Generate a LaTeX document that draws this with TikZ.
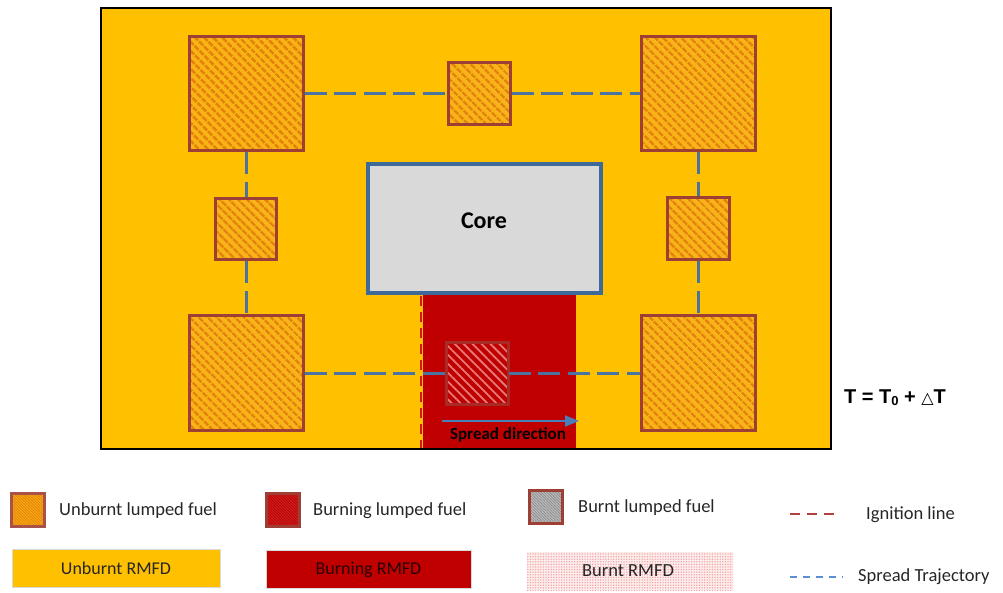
\documentclass[tikz,border=0pt]{standalone}
\usepackage{fontspec}
\setmainfont{Carlito}
\newfontfamily\arialfont{Liberation Sans}
\newfontfamily\symfont{DejaVu Sans}
\usetikzlibrary{patterns.meta,arrows.meta}

\definecolor{rmfd}{HTML}{FFC000}
\definecolor{burnred}{HTML}{C00000}
\definecolor{fuelbase}{HTML}{F8B414}
\definecolor{fuelline}{HTML}{E5820C}
\definecolor{fuelborder}{HTML}{9E3F35}
\definecolor{coreblue}{HTML}{3E6A9A}
\definecolor{coregray}{HTML}{D9D9D9}
\definecolor{trajblue}{HTML}{4A74A0}
\definecolor{arrowblue}{HTML}{4A7EBB}
\definecolor{ignred}{HTML}{D81818}
\definecolor{legred}{HTML}{B0413E}
\definecolor{legblue}{HTML}{5B8FD0}
\definecolor{burnline}{HTML}{E57A7A}
\definecolor{ashbase}{HTML}{BFBFBF}
\definecolor{ashline}{HTML}{8C8C8C}
\definecolor{pinkbase}{HTML}{FDECEC}
\definecolor{pinkdot}{HTML}{F3A3A3}
\definecolor{legtext}{HTML}{262626}

\tikzset{
  fuel/.style={draw=fuelborder, line width=3pt, inner sep=0pt, minimum size=#1,
    preaction={fill=fuelbase},
    pattern={Lines[angle=-45,distance=6.5pt,line width=3pt]}, pattern color=fuelline},
  burning/.style={draw=fuelborder!70!burnred, line width=3pt, inner sep=0pt, minimum size=#1,
    preaction={fill=burnred},
    pattern={Lines[angle=-45,distance=6.3pt,line width=1.8pt]}, pattern color=burnline},
  legfuel/.style={draw=#1, line width=2.5pt, inner sep=0pt, minimum size=33pt},
  traj/.style={draw=trajblue, line width=3pt, dash pattern=on 22pt off 7.5pt},
  ignition/.style={draw=ignred, line width=2pt, dash pattern=on 10pt off 6pt},
  spreadarrow/.style={draw=arrowblue, line width=2pt, -{Triangle[length=14pt,width=11pt]}},
  legbox/.style={draw=white!85!black, line width=0.4pt, inner sep=0pt, minimum height=38pt, font=\fontsize{18}{18}\selectfont, text=legtext},
  legtxt/.style={anchor=west, inner sep=0pt, font=\fontsize{18.5}{18.5}\selectfont, text=legtext},
}

\begin{document}
\begin{tikzpicture}[x=1pt,y=-1pt]
\useasboundingbox (0,0) rectangle (1003,593);

% field of unburnt RMFD
\node[fill=rmfd, inner sep=0pt, minimum width=730pt, minimum height=441pt] (field) at (466,228.5) {};
% burning strip below the core
\node[fill=burnred, inner sep=0pt, minimum width=153pt, minimum height=155pt] (burnzone) at (499.5,371.5) {};
\draw[black, line width=1.5pt] (field.north west) rectangle (field.south east);

% ignition line
\coordinate (ig1) at (421,296);
\coordinate (ig2) at (421,448);
\draw[ignition] (ig1) -- (ig2);

% core
\node[draw=coreblue, line width=4pt, fill=coregray, minimum width=233pt, minimum height=129pt, inner sep=0pt] (core) at (484.5,228.5) {};
\node[inner sep=0pt, font=\bfseries\fontsize{24}{24}\selectfont] (corelabel) at (484,221) {Core};

% lumped fuel
\node[fuel=114pt] (tl) at (246,94) {};
\node[fuel=114pt] (tr) at (698,94) {};
\node[fuel=114pt] (bl) at (246,373) {};
\node[fuel=114pt] (br) at (698,373) {};
\node[fuel=62pt] (tm) at (479,94) {};
\node[fuel=61pt] (lm) at (246,229.5) {};
\node[fuel=62pt] (rm) at (698,229) {};
\node[burning=62pt] (bm) at (477,373) {};

% spread trajectory
\draw[traj] (tl.east) -- (tm.west);
\draw[traj] (tm.east) -- (tr.west);
\draw[traj] (tr.south) -- (rm.north);
\draw[traj] (rm.south) -- (br.north);
\draw[traj] (bl.east) -- (bm.west);
\draw[traj] (bm.east) -- (br.west);
\draw[traj] (tl.south) -- (lm.north);
\draw[traj] (lm.south) -- (bl.north);

% spread direction
\coordinate (sd1) at (442,421);
\coordinate (sd2) at (579,421);
\draw[spreadarrow] (sd1) -- (sd2);
\node[inner sep=0pt, font=\bfseries\fontsize{17}{17}\selectfont] (sdlabel) at (508,435) {Spread direction};

% temperature
\node[inner sep=0pt, font=\arialfont\bfseries\fontsize{20}{20}\selectfont] (temp) at (895,398)
  {T = T\raisebox{-1.5pt}{\fontsize{13}{13}\selectfont 0} + {\symfont\fontsize{16}{16}\selectfont △}T};

% legend: lumped fuel
\node[legfuel=fuelborder!90!white, preaction={fill=fuelbase!90!orange},
      pattern={Lines[angle=-45,distance=2pt,line width=0.9pt]}, pattern color=fuelline] (lg1) at (28,510) {};
\node[legtxt] (lt1) at (59,511) {Unburnt lumped fuel};
\node[legfuel=fuelborder, preaction={fill=burnred!85!white},
      pattern={Lines[angle=-45,distance=2pt,line width=0.9pt]}, pattern color=burnred] (lg2) at (283,510) {};
\node[legtxt] (lt2) at (313,511) {Burning lumped fuel};
\node[legfuel=fuelborder, preaction={fill=ashbase},
      pattern={Lines[angle=-45,distance=2pt,line width=0.8pt]}, pattern color=ashline] (lg3) at (546,507) {};
\node[legtxt] (lt3) at (578,508) {Burnt lumped fuel};

% legend: RMFD
\node[legbox, fill=rmfd, minimum width=208pt] (lb1) at (116,568) {Unburnt RMFD};
\node[legbox, fill=burnred, minimum width=205pt, text=black!80!burnred] (lb2) at (368.5,569.5) {Burning RMFD};
\node[legbox, draw=none, minimum width=206pt, preaction={fill=pinkbase},
      pattern={Dots[distance=2.6pt,radius=0.75pt]}, pattern color=pinkdot] (lb3) at (630,571) {};
\node[legtxt, anchor=center] (lb3t) at (628,571) {Burnt RMFD};

% legend: lines
\coordinate (li1) at (790,514);
\coordinate (li2) at (841,514);
\draw[legred, line width=2.5pt, dash pattern=on 10pt off 7pt] (li1) -- (li2);
\node[legtxt] (lt4) at (866,515) {Ignition line};
\coordinate (ls1) at (790,577);
\coordinate (ls2) at (843,577);
\draw[legblue, line width=2pt, dash pattern=on 7pt off 6pt] (ls1) -- (ls2);
\node[legtxt] (lt5) at (858,577) {Spread Trajectory};
\end{tikzpicture}
\end{document}
